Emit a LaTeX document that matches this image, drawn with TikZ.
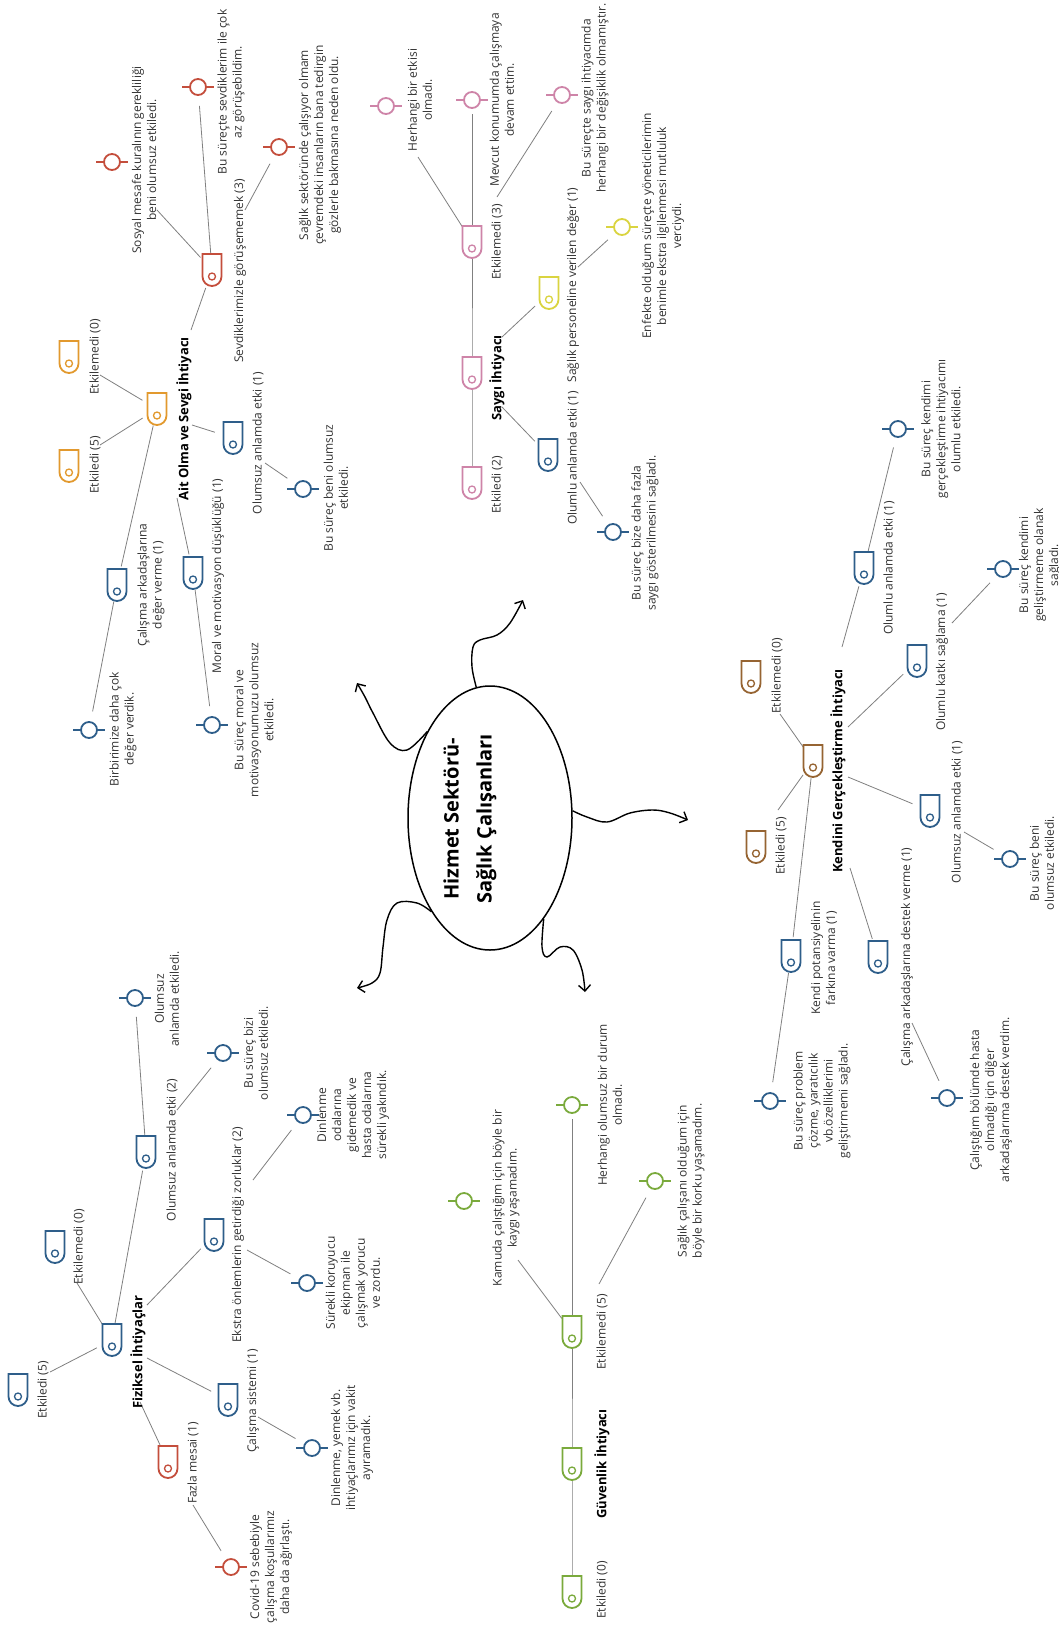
\documentclass[tikz,border=0pt]{standalone}
\usepackage{fontspec}
\setmainfont{Open Sans}
\usetikzlibrary{shapes.geometric,arrows.meta}

\definecolor{mblue}{RGB}{46,94,138}
\definecolor{mred}{RGB}{196,78,60}
\definecolor{morange}{RGB}{226,153,46}
\definecolor{mpink}{RGB}{206,132,168}
\definecolor{myellow}{RGB}{218,212,64}
\definecolor{mgreen}{RGB}{122,170,60}
\definecolor{mbrown}{RGB}{150,100,50}

\tikzset{
  tag/.pic={
    \draw[line width=1.8pt, fill=white] (-9.5,-16) -- (-9.5,6.5) arc[start angle=180, end angle=0, radius=9.5] -- (9.5,-16) -- cycle;
    \draw[line width=1.3pt] (0,6.5) circle[radius=3.5];
  },
  leaf/.pic={
    \draw[line width=1.8pt, fill=white] (0,0) circle[radius=8];
    \draw[line width=1.8pt] (-16,0) -- (-8,0) (8,0) -- (16,0);
  }
}

\begin{document}
\begin{tikzpicture}[x=1pt,y=-1pt,
  lbl/.style={rotate=90, align=center, inner sep=1pt, text=black!80, font=\fontsize{12}{15}\selectfont},
  hd/.style={lbl, text=black, font=\fontsize{13}{16}\selectfont\bfseries},
  conn/.style={draw=gray, line width=0.8pt},
  sic/.style={shorten <=17pt},
  eic/.style={shorten >=19pt},
  squig/.style={line width=1.4pt, -{Straight Barb[length=6pt,width=12pt]}}]

\fill[white] (0,0) rectangle (1059,1634);
\useasboundingbox (0,0) rectangle (1059,1634);

% Centre
\node[draw, ellipse, line width=1.5pt, minimum width=164pt, minimum height=264pt, inner sep=0pt] (hub) at (490,818) {};
\node[rotate=90, align=center, font=\fontsize{20}{33}\selectfont\bfseries] (title) at (470,819) {Hizmet Sektörü-\\Sağlık Çalışanları};

\coordinate (t1) at (357,683);
\coordinate (t2) at (523,600);
\coordinate (t3) at (688,820);
\coordinate (t4) at (585,992);
\coordinate (t5) at (357,988);
\draw[squig] plot[smooth, tension=0.6] coordinates {(hub.126) (407,750) (390,743) (373,713) (365,697) (t1)};
\draw[squig] plot[smooth, tension=0.6] coordinates {(hub.96) (472,667) (473,647) (480,640) (497,635) (510,623) (t2)};
\draw[squig] plot[smooth, tension=0.6] coordinates {(hub.5) (587,817) (607,822) (630,813) (653,810) (670,813) (t3)};
\draw[squig] plot[smooth, tension=0.6] coordinates {(hub.-62) (542,947) (547,957) (560,947) (573,950) (582,970) (t4)};
\draw[squig] plot[smooth, tension=0.6] coordinates {(hub.238) (417,903) (397,903) (387,920) (383,947) (380,973) (372,983) (t5)};

% Fiziksel Ihtiyaclar
\coordinate (fz) at (112,1340);
\coordinate (fz5) at (18,1390);
\coordinate (fz0) at (55,1247);
\coordinate (fzo) at (146,1152);
\coordinate (fzo1) at (135,998);
\coordinate (fzo2) at (223,1053);
\coordinate (fze) at (214,1235);
\coordinate (fze1) at (307,1283);
\coordinate (fze2) at (303,1115);
\coordinate (fzc) at (228,1400);
\coordinate (fzc1) at (312,1448);
\coordinate (fzm) at (168,1462);
\coordinate (fzm1) at (231,1567);
\coordinate (fz5e) at (50,1372);
\coordinate (fz0e) at (77,1283);
\coordinate (fzos) at (177,1110);
\coordinate (fzes) at (147,1305);
\coordinate (fze1s) at (247,1250);
\coordinate (fze2s) at (253,1180);
\coordinate (fzcs) at (147,1358);
\coordinate (fzc1s) at (258,1417);
\coordinate (fzms) at (140,1402);
\coordinate (fzm1s) at (193,1505);

\draw[conn, sic] (fz) -- (fz5e);
\draw[conn, sic] (fz) -- (fz0e);
\draw[conn, sic, eic] (fz) -- (fzo);
\draw[conn, sic, eic] (fzo) -- (fzo1);
\draw[conn, eic] (fzos) -- (fzo2);
\draw[conn, eic] (fzes) -- (fze);
\draw[conn, eic] (fze1s) -- (fze1);
\draw[conn, eic] (fze2s) -- (fze2);
\draw[conn, eic] (fzcs) -- (fzc);
\draw[conn, eic] (fzc1s) -- (fzc1);
\draw[conn, eic] (fzms) -- (fzm);
\draw[conn, eic] (fzm1s) -- (fzm1);

\pic[color=mblue] at (fz) {tag};
\pic[color=mblue] at (fz5) {tag};
\pic[color=mblue] at (fz0) {tag};
\pic[color=mblue] at (fzo) {tag};
\pic[color=mblue] at (fzo1) {leaf};
\pic[color=mblue] at (fzo2) {leaf};
\pic[color=mblue] at (fze) {tag};
\pic[color=mblue] at (fze1) {leaf};
\pic[color=mblue] at (fze2) {leaf};
\pic[color=mblue] at (fzc) {tag};
\pic[color=mblue] at (fzc1) {leaf};
\pic[color=mred] at (fzm) {tag};
\pic[color=mred] at (fzm1) {leaf};

\node[hd] (lfz) at (138,1352) {Fiziksel İhtiyaçlar};
\node[lbl] (lfz5) at (43,1390) {Etkiledi (5)};
\node[lbl] (lfz0) at (79,1247) {Etkilemedi (0)};
\node[lbl] (lfzo) at (172,1150) {Olumsuz anlamda etki (2)};
\node[lbl] (lfzo1) at (167,999) {Olumsuz\\anlamda etkiledi.};
\node[lbl] (lfzo2) at (256,1053) {Bu süreç bizi\\olumsuz etkiledi.};
\node[lbl] (lfze) at (238,1235) {Ekstra önlemlerin getirdiği zorluklar (2)};
\node[lbl] (lfze1) at (353,1283) {Sürekli koruyucu\\ekipman ile\\çalışmak yorucu\\ve zordu.};
\node[lbl] (lfze2) at (353,1115) {Dinlenme\\odalarına\\gidemedik ve\\hasta odalarına\\sürekli yakındık.};
\node[lbl] (lfzc) at (253,1401) {Çalışma sistemi (1)};
\node[lbl] (lfzc1) at (352,1448) {Dinlenme, yemek vb.\\ihtiyaçlarımız için vakit\\ayıramadık.};
\node[lbl] (lfzm) at (193,1463) {Fazla mesai (1)};
\node[lbl] (lfzm1) at (271,1567) {Covid-19 sebebiyle\\çalışma koşullarımız\\daha da ağırlaştı.};

% Ait Olma ve Sevgi Ihtiyaci
\coordinate (ao) at (157,409);
\coordinate (ao0) at (69,357);
\coordinate (ao5) at (69,466);
\coordinate (aon) at (233,438);
\coordinate (aon1) at (303,489);
\coordinate (aoc) at (117,585);
\coordinate (aoc1) at (89,730);
\coordinate (aom) at (193,573);
\coordinate (aom1) at (212,725);
\coordinate (aos) at (212,270);
\coordinate (aos1) at (112,162);
\coordinate (aos2) at (198,87);
\coordinate (aos3) at (279,147);
\coordinate (ao0e) at (100,375);
\coordinate (ao5e) at (100,445);
\coordinate (aons) at (192,425);
\coordinate (aon1s) at (265,463);
\coordinate (aoms) at (177,498);
\coordinate (aoss) at (191,330);
\coordinate (aos1e) at (157,210);
\coordinate (aos3s) at (245,210);

\draw[conn, sic] (ao) -- (ao0e);
\draw[conn, sic] (ao) -- (ao5e);
\draw[conn, eic] (aons) -- (aon);
\draw[conn, eic] (aon1s) -- (aon1);
\draw[conn, sic, eic] (ao) -- (aoc);
\draw[conn, sic, eic] (aoc) -- (aoc1);
\draw[conn, eic] (aoms) -- (aom);
\draw[conn, sic, eic] (aom) -- (aom1);
\draw[conn, eic] (aoss) -- (aos);
\draw[conn, sic] (aos) -- (aos1e);
\draw[conn, sic, eic] (aos) -- (aos2);
\draw[conn, eic] (aos3s) -- (aos3);

\pic[color=morange] at (ao) {tag};
\pic[color=morange] at (ao0) {tag};
\pic[color=morange] at (ao5) {tag};
\pic[color=mblue] at (aon) {tag};
\pic[color=mblue] at (aon1) {leaf};
\pic[color=mblue] at (aoc) {tag};
\pic[color=mblue] at (aoc1) {leaf};
\pic[color=mblue] at (aom) {tag};
\pic[color=mblue] at (aom1) {leaf};
\pic[color=mred] at (aos) {tag};
\pic[color=mred] at (aos1) {leaf};
\pic[color=mred] at (aos2) {leaf};
\pic[color=mred] at (aos3) {leaf};

\node[hd] (lao) at (184,419) {Ait Olma ve Sevgi İhtiyacı};
\node[lbl] (lao0) at (95,357) {Etkilemedi (0)};
\node[lbl] (lao5) at (95,465) {Etkiledi (5)};
\node[lbl] (laon) at (258,443) {Olumsuz anlamda etki (1)};
\node[lbl] (laon1) at (336,488) {Bu süreç beni olumsuz\\etkiledi.};
\node[lbl] (laoc) at (151,585) {Çalışma arkadaşlarına\\değer verme (1)};
\node[lbl] (laoc1) at (123,729) {Birbirimize daha çok\\değer verdik.};
\node[lbl] (laom) at (218,576) {Moral ve motivasyon düşüklüğü (1)};
\node[lbl] (laom1) at (254,720) {Bu süreç moral ve\\motivasyonumuzu olumsuz\\etkiledi.};
\node[lbl] (laos) at (240,271) {Sevdiklerimizle görüşememek (3)};
\node[lbl] (laos1) at (144,160) {Sosyal mesafe kuralının gerekliliği\\beni olumsuz etkiledi.};
\node[lbl] (laos2) at (231,92) {Bu süreçte sevdiklerim ile çok\\az görüşebildim.};
\node[lbl] (laos3) at (320,145) {Sağlık sektöründe çalışıyor olmam\\çevremdeki insanların bana tedirgin\\gözlerle bakmasına neden oldu.};

% Saygi Ihtiyaci
\coordinate (sy) at (472,373);
\coordinate (sy2) at (472,483);
\coordinate (sy3) at (472,242);
\coordinate (sy3a) at (386,106);
\coordinate (sy3b) at (472,100);
\coordinate (sy3c) at (562,95);
\coordinate (syd) at (549,293);
\coordinate (syd1) at (622,227);
\coordinate (syo) at (548,455);
\coordinate (syo1) at (613,532);
\coordinate (sy3ae) at (418,157);
\coordinate (sy3cs) at (497,197);
\coordinate (syds) at (502,337);
\coordinate (syd1s) at (578,267);
\coordinate (syos) at (502,407);
\coordinate (syo1s) at (580,482);

\draw[conn] (sy2) -- (sy) -- (sy3);
\draw[conn, shorten >=14pt] (sy3) -- (sy3b);
\draw[conn, sic] (sy3) -- (sy3ae);
\draw[conn, eic] (sy3cs) -- (sy3c);
\draw[conn, eic] (syds) -- (syd);
\draw[conn, eic] (syd1s) -- (syd1);
\draw[conn, eic] (syos) -- (syo);
\draw[conn, eic] (syo1s) -- (syo1);

\pic[color=mpink] at (sy) {tag};
\pic[color=mpink] at (sy2) {tag};
\pic[color=mpink] at (sy3) {tag};
\pic[color=mpink] at (sy3a) {leaf};
\pic[color=mpink] at (sy3b) {leaf};
\pic[color=mpink] at (sy3c) {leaf};
\pic[color=myellow] at (syd) {tag};
\pic[color=myellow] at (syd1) {leaf};
\pic[color=mblue] at (syo) {tag};
\pic[color=mblue] at (syo1) {leaf};

\node[hd] (lsy) at (497,378) {Saygı İhtiyacı};
\node[lbl] (lsy2) at (497,485) {Etkiledi (2)};
\node[lbl] (lsy3) at (497,242) {Etkilemedi (3)};
\node[lbl] (lsy3a) at (420,100) {Herhangi bir etkisi\\olmadı.};
\node[lbl] (lsy3b) at (502,100) {Mevcut konumumda çalışmaya\\devam ettim.};
\node[lbl] (lsy3c) at (595,98) {Bu süreçte saygı ihtiyacımda\\herhangi bir değişiklik olmamıştır.};
\node[lbl] (lsyd) at (573,285) {Sağlık personeline verilen değer (1)};
\node[lbl] (lsyd1) at (663,226) {Enfekte olduğum süreçte yöneticilerimin\\benimle ekstra ilgilenmesi mutluluk\\verciydi.};
\node[lbl] (lsyo) at (573,458) {Olumlu anlamda etki (1)};
\node[lbl] (lsyo1) at (645,533) {Bu süreç bize daha fazla\\saygı gösterilmesini sağladı.};

% Guvenlik Ihtiyaci
\coordinate (gv) at (572,1464);
\coordinate (gv0) at (572,1592);
\coordinate (gv5) at (572,1332);
\coordinate (gv5a) at (464,1201);
\coordinate (gv5b) at (572,1105);
\coordinate (gv5c) at (655,1181);
\coordinate (gv5ae) at (518,1260);
\coordinate (gv5cs) at (599,1284);

\draw[conn] (gv0) -- (gv) -- (gv5);
\draw[conn, shorten >=14pt] (gv5) -- (gv5b);
\draw[conn, sic] (gv5) -- (gv5ae);
\draw[conn, eic] (gv5cs) -- (gv5c);

\pic[color=mgreen] at (gv) {tag};
\pic[color=mgreen] at (gv0) {tag};
\pic[color=mgreen] at (gv5) {tag};
\pic[color=mgreen] at (gv5a) {leaf};
\pic[color=mgreen] at (gv5b) {leaf};
\pic[color=mgreen] at (gv5c) {leaf};

\node[hd] (lgv) at (602,1464) {Güvenlik İhtiyacı};
\node[lbl] (lgv0) at (602,1590) {Etkiledi (0)};
\node[lbl] (lgv5) at (602,1332) {Etkilemedi (5)};
\node[lbl] (lgv5a) at (506,1198) {Kamuda çalıştığım için böyle bir\\kaygı yaşamadım.};
\node[lbl] (lgv5b) at (610,1105) {Herhangi olumsuz bir durum\\olmadı.};
\node[lbl] (lgv5c) at (691,1181) {Sağlık çalışanı olduğum için\\böyle bir korku yaşamadım.};

% Kendini Gerceklestirme Ihtiyaci
\coordinate (kg) at (813,761);
\coordinate (kg0) at (751,677);
\coordinate (kg5) at (756,847);
\coordinate (kgo) at (864,568);
\coordinate (kgo1) at (898,429);
\coordinate (kgk) at (917,661);
\coordinate (kgk1) at (1003,569);
\coordinate (kgn) at (930,811);
\coordinate (kgn1) at (1010,859);
\coordinate (kgp) at (791,956);
\coordinate (kgp1) at (770,1101);
\coordinate (kga) at (878,957);
\coordinate (kga1) at (947,1098);
\coordinate (kg0e) at (780,714);
\coordinate (kg5e) at (778,810);
\coordinate (kgos) at (842,647);
\coordinate (kgks) at (848,727);
\coordinate (kgk1s) at (952,623);
\coordinate (kgns) at (848,777);
\coordinate (kgn1s) at (964,832);
\coordinate (kgas) at (850,868);
\coordinate (kga1s) at (912,1023);

\draw[conn, sic] (kg) -- (kg0e);
\draw[conn, sic] (kg) -- (kg5e);
\draw[conn, eic] (kgos) -- (kgo);
\draw[conn, sic, eic] (kgo) -- (kgo1);
\draw[conn, eic] (kgks) -- (kgk);
\draw[conn, eic] (kgk1s) -- (kgk1);
\draw[conn, eic] (kgns) -- (kgn);
\draw[conn, eic] (kgn1s) -- (kgn1);
\draw[conn, sic, eic] (kg) -- (kgp);
\draw[conn, sic, eic] (kgp) -- (kgp1);
\draw[conn, eic] (kgas) -- (kga);
\draw[conn, eic] (kga1s) -- (kga1);

\pic[color=mbrown] at (kg) {tag};
\pic[color=mbrown] at (kg0) {tag};
\pic[color=mbrown] at (kg5) {tag};
\pic[color=mblue] at (kgo) {tag};
\pic[color=mblue] at (kgo1) {leaf};
\pic[color=mblue] at (kgk) {tag};
\pic[color=mblue] at (kgk1) {leaf};
\pic[color=mblue] at (kgn) {tag};
\pic[color=mblue] at (kgn1) {leaf};
\pic[color=mblue] at (kgp) {tag};
\pic[color=mblue] at (kgp1) {leaf};
\pic[color=mblue] at (kga) {tag};
\pic[color=mblue] at (kga1) {leaf};

\node[hd] (lkg) at (838,771) {Kendini Gerçekleştirme İhtiyacı};
\node[lbl] (lkg0) at (777,676) {Etkilemedi (0)};
\node[lbl] (lkg5) at (781,846) {Etkiledi (5)};
\node[lbl] (lkgo) at (889,568) {Olumlu anlamda etki (1)};
\node[lbl] (lkgo1) at (941,429) {Bu süreç kendimi\\gerçekleştirme ihtiyacımı\\olumlu etkiledi.};
\node[lbl] (lkgk) at (942,662) {Olumlu katkı sağlama (1)};
\node[lbl] (lkgk1) at (1040,565) {Bu süreç kendimi\\geliştirmeme olanak\\sağladı.};
\node[lbl] (lkgn) at (957,812) {Olumsuz anlamda etki (1)};
\node[lbl] (lkgn1) at (1042,863) {Bu süreç beni\\olumsuz etkiledi.};
\node[lbl] (lkgp) at (824,958) {Kendi potansiyelinin\\farkına varma (1)};
\node[lbl] (lkgp1) at (822,1101) {Bu süreç problem\\çözme, yaratıcılık\\vb.özelliklerimi\\geliştirmemi sağladı.};
\node[lbl] (lkga) at (907,957) {Çalışma arkadaşlarına destek verme (1)};
\node[lbl] (lkga1) at (991,1100) {Çalıştığım bölümde hasta\\olmadığı için diğer\\arkadaşlarıma destek verdim.};

\end{tikzpicture}
\end{document}
